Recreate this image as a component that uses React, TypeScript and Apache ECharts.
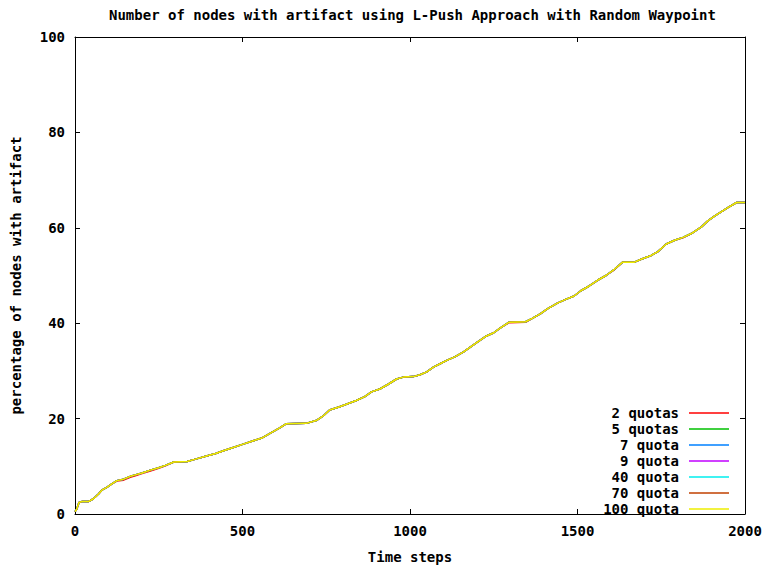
import React, { useEffect, useRef } from "react";
import * as echarts from "echarts";

const titleText = "Number of nodes with artifact using L-Push Approach with Random Waypoint";
const xName = "Time steps";
const yName = "percentage of nodes with artifact";
const seriesNames = ["2 quotas", "5 quotas", "7 quota", "9 quota", "40 quota", "70 quota", "100 quota"];
const seriesColors = ["#ff0000", "#00c000", "#0080ff", "#c000ff", "#00eeee", "#c04000", "#eeee00"];

const timeSteps = [
  0, 5, 12, 20, 40, 55, 70, 80, 95, 110, 125, 145, 165, 180, 200, 225, 250, 270, 295, 335,
  360, 390, 420, 445, 470, 500, 530, 560, 590, 610, 630, 690, 720, 740, 760, 790, 810, 840, 865, 885,
  910, 935, 960, 980, 1010, 1030, 1050, 1070, 1090, 1110, 1135, 1160, 1180, 1200, 1225, 1250, 1270, 1296, 1345, 1365,
  1390, 1410, 1440, 1465, 1490, 1510, 1535, 1560, 1585, 1610, 1635, 1670, 1690, 1720, 1740, 1765, 1790, 1815, 1840, 1870,
  1890, 1910, 1930, 1950, 1975, 2000,
];

// 100 quota (and the hidden, overlapping 5/7/9/40/70 quota curves)
const quota100 = [
  0.5, 1.0, 2.4, 2.6, 2.6, 3.2, 4.2, 5.0, 5.6, 6.3, 7.0, 7.3, 7.9, 8.2, 8.6, 9.2, 9.7, 10.2, 10.9, 11.0,
  11.5, 12.1, 12.7, 13.3, 13.9, 14.6, 15.3, 16.0, 17.2, 18.0, 18.9, 19.0, 19.6, 20.5, 21.8, 22.5, 23.0, 23.8, 24.6, 25.6,
  26.2, 27.2, 28.3, 28.7, 28.8, 29.2, 29.8, 30.8, 31.5, 32.2, 33.0, 34.0, 35.0, 36.0, 37.2, 38.0, 39.0, 40.2, 40.3, 41.0,
  42.0, 43.0, 44.2, 45.0, 45.7, 46.8, 47.8, 49.0, 50.0, 51.3, 52.8, 52.8, 53.4, 54.2, 55.0, 56.6, 57.4, 58.0, 58.8, 60.2,
  61.5, 62.5, 63.4, 64.3, 65.3, 65.3,
];
const quota70 = quota100;
const quota40 = quota100;
const quota9 = quota100;
const quota7 = quota100;
const quota5 = quota100;
// 2 quotas: peeks out slightly below in a few places
const quota2 = [
  0.5, 1.0, 2.4, 2.6, 2.6, 3.2, 4.2, 5.0, 5.6, 6.3, 6.9, 7.1, 7.7, 8.0, 8.5, 9.0, 9.6, 10.1, 10.9, 11.0,
  11.5, 12.1, 12.7, 13.3, 13.9, 14.6, 15.3, 16.0, 17.2, 18.0, 18.9, 19.0, 19.6, 20.5, 21.8, 22.5, 23.0, 23.8, 24.6, 25.6,
  26.2, 27.2, 28.3, 28.7, 28.8, 29.2, 29.8, 30.8, 31.5, 32.2, 33.0, 34.0, 35.0, 36.0, 37.2, 38.0, 39.0, 40.1, 40.2, 41.0,
  42.0, 43.0, 44.2, 45.0, 45.7, 46.8, 47.8, 49.0, 50.0, 51.2, 52.8, 52.8, 53.4, 54.2, 55.0, 56.6, 57.4, 57.9, 58.8, 60.2,
  61.5, 62.5, 63.4, 64.3, 65.3, 65.3,
];
const seriesValues = [quota2, quota5, quota7, quota9, quota40, quota70, quota100];

const xTicks = { min: 0, max: 2000, interval: 500 };
const yTicks = { min: 0, max: 100, interval: 20 };

const FONT = "DejaVu Sans Mono";

export default function App() {
  const ref = useRef<HTMLDivElement>(null);
  useEffect(() => {
    if (!ref.current) return;
    const chart = echarts.init(ref.current, undefined, { renderer: "svg" });
    const textBase = { fontFamily: FONT, fontWeight: "bold" as const, fontSize: 14, color: "#000" };
    const axisCommon = {
      axisLine: { show: true, onZero: false, lineStyle: { color: "#000", width: 1 } },
      axisTick: { show: true, inside: true, length: 5, lineStyle: { color: "#000" } },
      splitLine: { show: false },
    };
    chart.setOption({
      animation: false,
      backgroundColor: "#fff",
      title: {
        text: titleText,
        left: 104,
        top: 3,
        textStyle: { ...textBase, fontSize: 14 },
      },
      grid: { left: 75, right: 22, top: 37, bottom: 49, containLabel: false },
      legend: {
        orient: "vertical",
        align: "right",
        right: 38,
        top: 405,
        padding: 0,
        icon: "rect",
        itemWidth: 40,
        itemHeight: 1.5,
        itemGap: 0,
        textStyle: { ...textBase, lineHeight: 16, padding: [0, 5, 0, 0] },
        data: seriesNames,
      },
      xAxis: [
        {
          type: "value",
          ...xTicks,
          ...axisCommon,
          position: "bottom",
          name: xName,
          nameLocation: "middle",
          nameGap: 36,
          nameTextStyle: textBase,
          axisLabel: { ...textBase, margin: 10, formatter: (v: number) => String(v) },
        },
        {
          type: "value",
          ...xTicks,
          ...axisCommon,
          position: "top",
          axisLabel: { show: false },
        },
      ],
      yAxis: [
        {
          type: "value",
          ...yTicks,
          ...axisCommon,
          position: "left",
          name: yName,
          nameLocation: "middle",
          nameGap: 52,
          nameTextStyle: textBase,
          axisLabel: { ...textBase, margin: 10, formatter: (v: number) => String(v) },
        },
        {
          type: "value",
          ...yTicks,
          ...axisCommon,
          position: "right",
          axisLabel: { show: false },
        },
      ],
      series: seriesNames.map((name, i) => ({
        name,
        type: "line",
        xAxisIndex: 0,
        yAxisIndex: 0,
        symbol: "none",
        color: seriesColors[i],
        lineStyle: { width: 1.5, color: seriesColors[i] },
        data: timeSteps.map((t, j) => [t, seriesValues[i][j]]),
      })),
    });
    return () => chart.dispose();
  }, []);
  return (
    <div
      ref={ref}
      style={{ position: "fixed", left: 0, top: 0, width: 767, height: 569 }}
    />
  );
}
